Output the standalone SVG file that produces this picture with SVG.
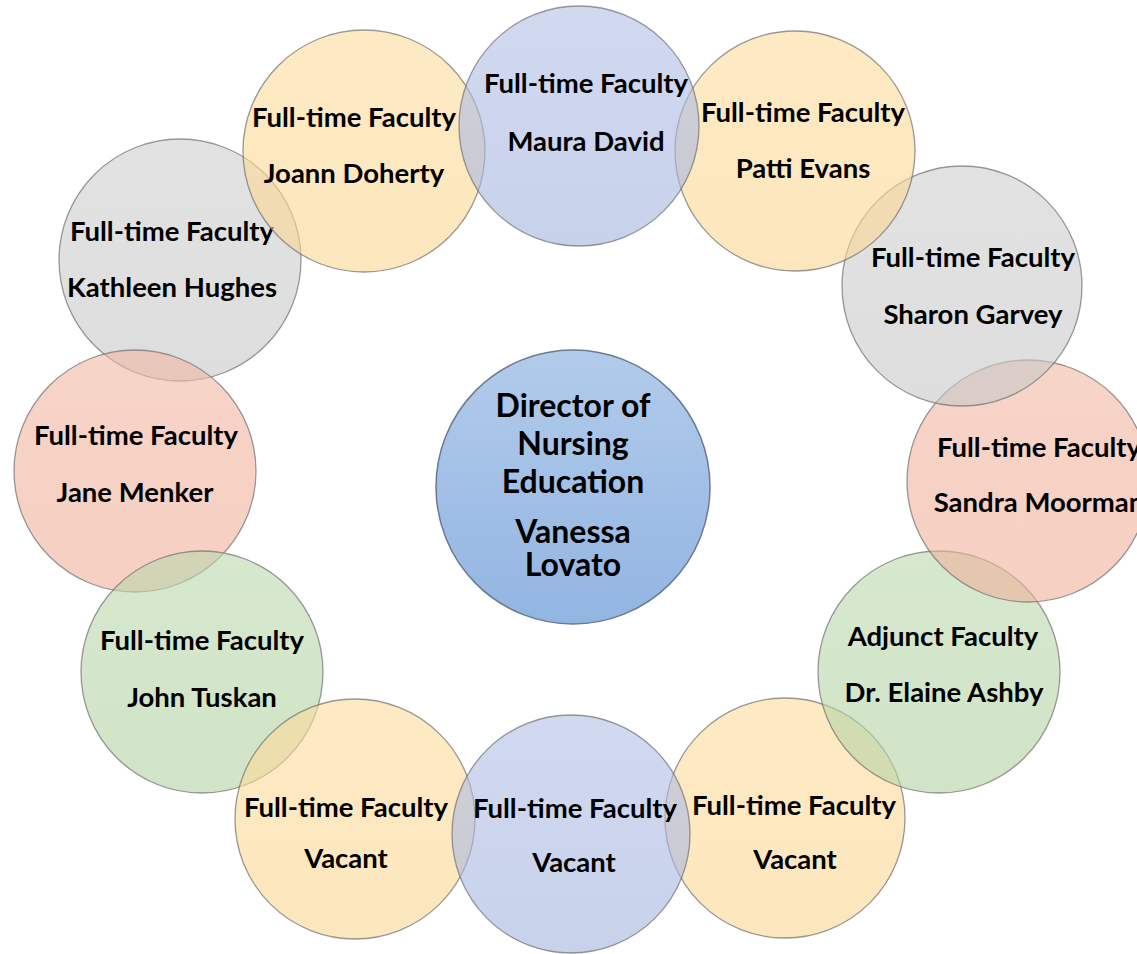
<svg xmlns="http://www.w3.org/2000/svg" width="1137" height="954" viewBox="0 0 1137 954">
<defs>
<linearGradient id="gBlue" x1="0" y1="0" x2="0" y2="1"><stop offset="0" stop-color="#b3c0e6"/><stop offset="1" stop-color="#a2b3dd"/></linearGradient>
<linearGradient id="gOrange" x1="0" y1="0" x2="0" y2="1"><stop offset="0" stop-color="#fcdc9c"/><stop offset="1" stop-color="#fbd691"/></linearGradient>
<linearGradient id="gGray" x1="0" y1="0" x2="0" y2="1"><stop offset="0" stop-color="#cfcfcf"/><stop offset="1" stop-color="#c7c7c7"/></linearGradient>
<linearGradient id="gPink" x1="0" y1="0" x2="0" y2="1"><stop offset="0" stop-color="#f1b8a3"/><stop offset="1" stop-color="#efb09a"/></linearGradient>
<linearGradient id="gGreen" x1="0" y1="0" x2="0" y2="1"><stop offset="0" stop-color="#bbd8ac"/><stop offset="1" stop-color="#b3d2a2"/></linearGradient>
<linearGradient id="gDir" x1="0" y1="0" x2="0" y2="1"><stop offset="0" stop-color="#b2cbeb"/><stop offset="1" stop-color="#92b5e2"/></linearGradient>
</defs>
<style>
.c{fill-opacity:0.6;stroke:#6f6f6f;stroke-opacity:0.7;stroke-width:1.3}
.blue{fill:url(#gBlue)}
.orange{fill:url(#gOrange)}
.gray{fill:url(#gGray)}
.pink{fill:url(#gPink)}
.green{fill:url(#gGreen)}
.dir{fill:url(#gDir);stroke:#6b7a90;stroke-width:1.5}
text{font-family:Lato,"Liberation Sans",sans-serif;font-weight:bold;fill:#000;text-anchor:middle;font-size:27.5px}
.d{font-size:32px}
</style>
<g id="connectors"></g>
<g id="node-kathleen"><circle class="c gray" cx="180" cy="260" r="121"/><text x="172" y="241">Full-time Faculty</text><text x="172" y="297">Kathleen Hughes</text></g>
<g id="node-joann"><circle class="c orange" cx="364" cy="151" r="121"/><text x="354" y="127">Full-time Faculty</text><text x="354" y="183">Joann Doherty</text></g>
<g id="node-jane"><circle class="c pink" cx="135" cy="471" r="121"/><text x="136" y="445">Full-time Faculty</text><text x="135" y="502">Jane Menker</text></g>
<g id="node-john"><circle class="c green" cx="202" cy="672" r="121"/><text x="202" y="650">Full-time Faculty</text><text x="202" y="707">John Tuskan</text></g>
<g id="node-vacant-left"><circle class="c orange" cx="355" cy="819" r="120"/><text x="346" y="817">Full-time Faculty</text><text x="346" y="868">Vacant</text></g>
<g id="node-vacant-right"><circle class="c orange" cx="785" cy="818" r="120"/><text x="794" y="815">Full-time Faculty</text><text x="795" y="869">Vacant</text></g>
<g id="node-elaine"><circle class="c green" cx="939" cy="672" r="121"/><text x="943" y="646">Adjunct Faculty</text><text x="944" y="702">Dr. Elaine Ashby</text></g>
<g id="node-sandra"><circle class="c pink" cx="1028" cy="481" r="121"/><text x="1039" y="457">Full-time Faculty</text><text x="1039" y="512">Sandra Moorman</text></g>
<g id="node-sharon"><circle class="c gray" cx="962" cy="286" r="120"/><text x="973" y="267">Full-time Faculty</text><text x="973" y="324">Sharon Garvey</text></g>
<g id="node-patti"><circle class="c orange" cx="795" cy="151" r="120"/><text x="803" y="122">Full-time Faculty</text><text x="803" y="178">Patti Evans</text></g>
<g id="node-maura"><circle class="c blue" cx="579" cy="126" r="120"/><text x="586" y="93">Full-time Faculty</text><text x="586" y="151">Maura David</text></g>
<g id="node-vacant-mid"><circle class="c blue" cx="571" cy="834" r="119"/><text x="575" y="818">Full-time Faculty</text><text x="574" y="872">Vacant</text></g>
<g id="node-director"><circle class="dir" cx="573" cy="487" r="137"/><text class="d" x="573" y="417">Director of</text><text class="d" x="573" y="455">Nursing</text><text class="d" x="573" y="493">Education</text><text class="d" x="573" y="543">Vanessa</text><text class="d" x="573" y="576">Lovato</text></g>
</svg>
